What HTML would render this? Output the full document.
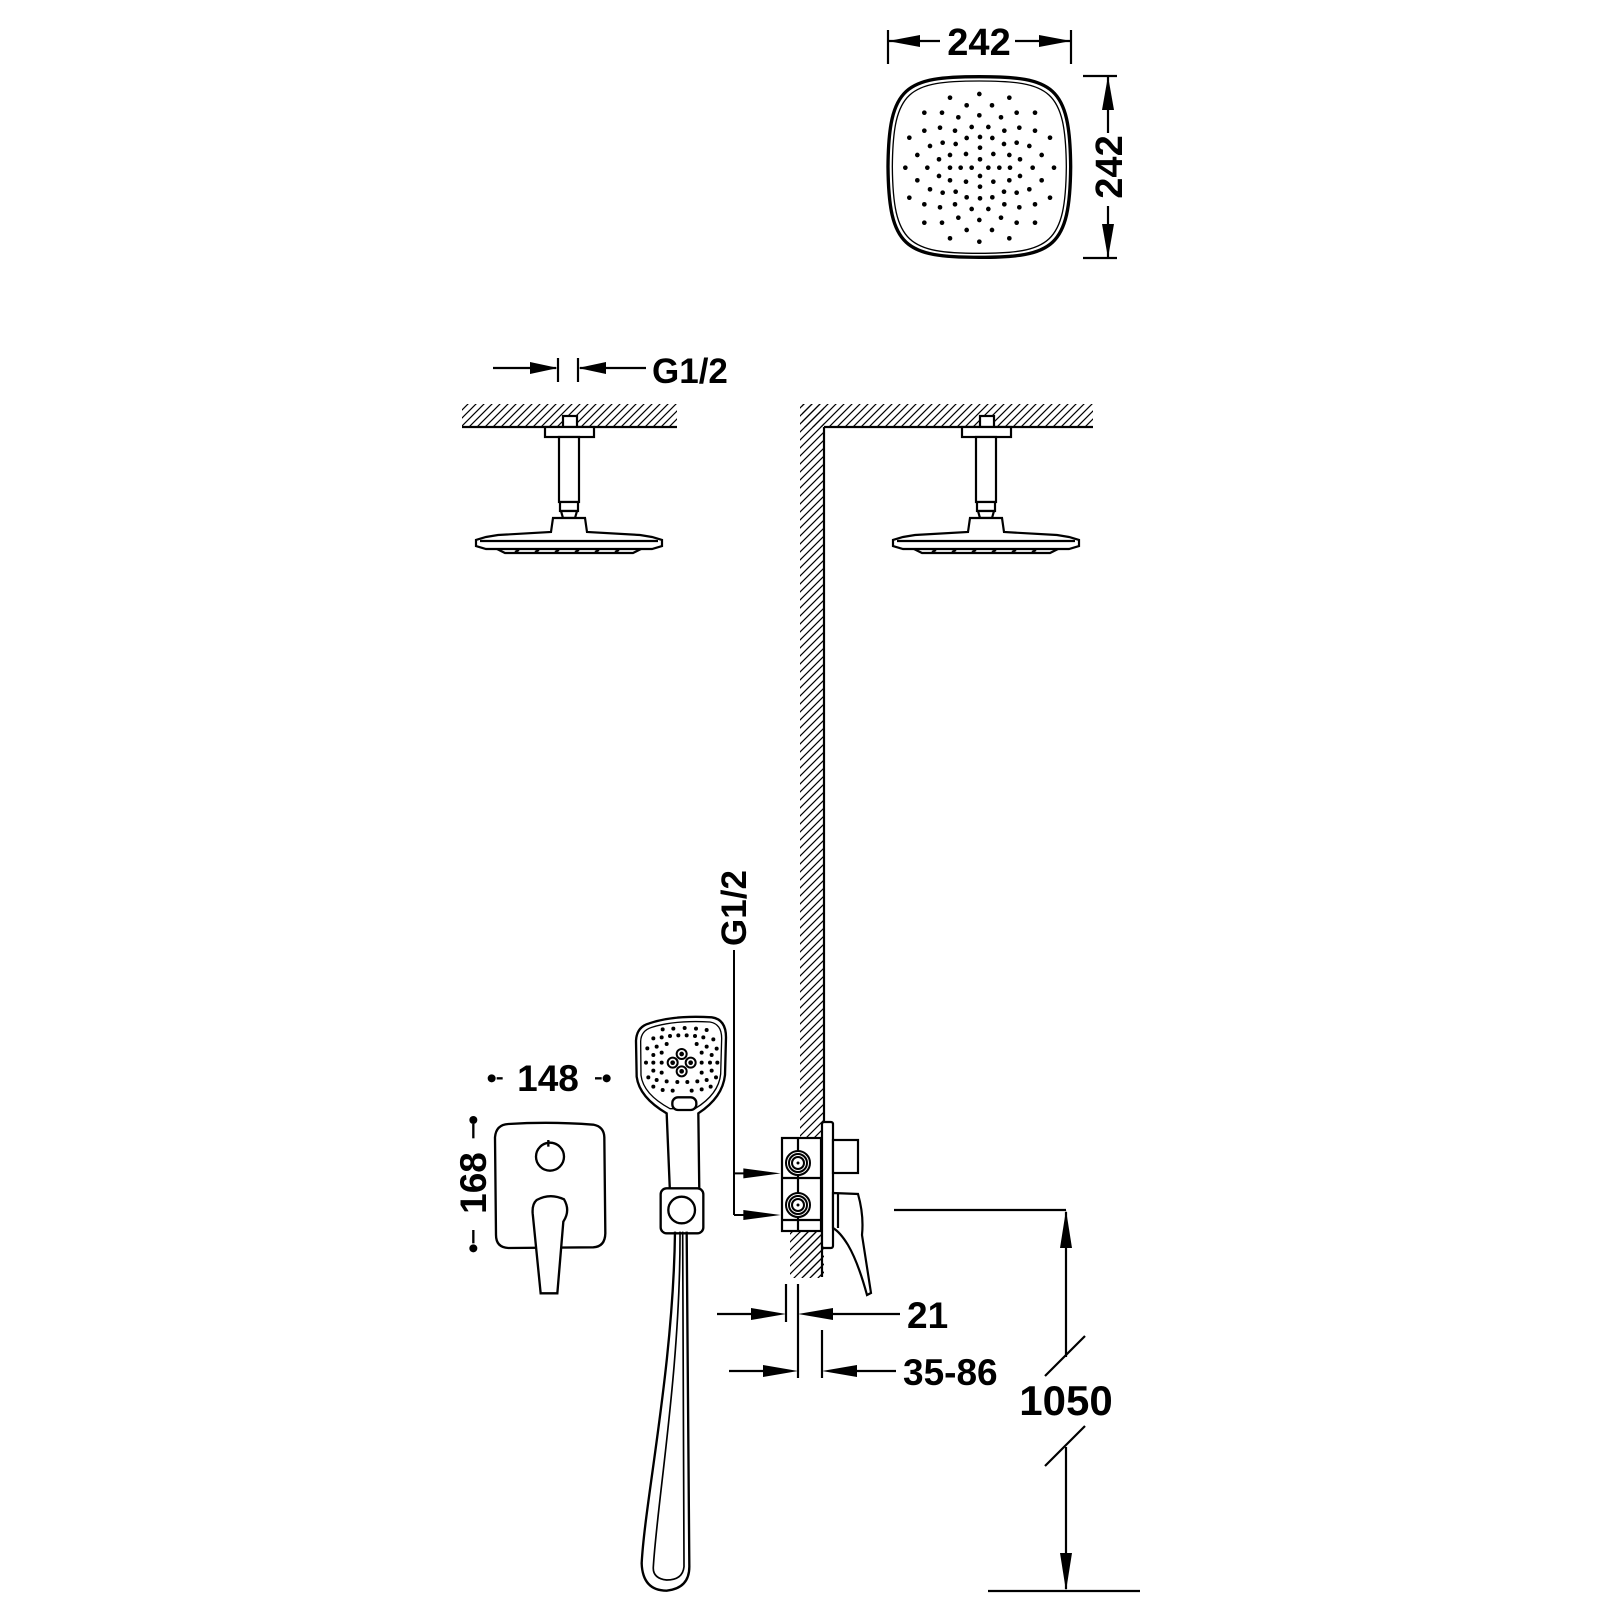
<!DOCTYPE html>
<html><head><meta charset="utf-8"><style>
html,body{margin:0;padding:0;background:#fff}
svg{display:block}
text{font-family:"Liberation Sans",Arial,sans-serif;font-weight:bold;fill:#000}
.s{fill:none;stroke:#000;stroke-width:2.2}
.w{fill:#fff;stroke:#000;stroke-width:2.2}
.n{vector-effect:non-scaling-stroke}
</style></head><body>
<svg width="1600" height="1600" viewBox="0 0 1600 1600" xmlns="http://www.w3.org/2000/svg">
<defs>
<pattern id="h" width="8" height="8" patternUnits="userSpaceOnUse">
<path d="M-2,10 L10,-2 M-2,2 L2,-2 M6,10 L10,6" stroke="#000" stroke-width="1.2"/>
</pattern>
<marker id="a" viewBox="0 0 10 10" refX="10" refY="5" markerWidth="10" markerHeight="10" markerUnits="userSpaceOnUse" orient="auto"><path d="M0,0 L10,5 L0,10Z"/></marker>
</defs>

<!-- TOP SQUARE SHOWER -->
<line x1="888" y1="30" x2="888" y2="64" class="s"/>
<line x1="1071" y1="30" x2="1071" y2="64" class="s"/>
<line x1="940" y1="41" x2="889" y2="41" class="s" stroke-width="2"/>
<polygon points="888,41 920,35 920,47"/>
<line x1="1015" y1="41" x2="1070" y2="41" class="s" stroke-width="2"/>
<polygon points="1071,41 1039,35 1039,47"/>
<text x="979" y="55" font-size="38" text-anchor="middle">242</text>
<line x1="1083" y1="76" x2="1117" y2="76" class="s"/>
<line x1="1083" y1="258" x2="1117" y2="258" class="s"/>
<line x1="1108" y1="77" x2="1108" y2="133" class="s"/>
<polygon points="1108,76 1102,110 1114,110"/>
<line x1="1108" y1="206" x2="1108" y2="257" class="s"/>
<polygon points="1108,258 1102,224 1114,224"/>
<text x="0" y="0" font-size="38" text-anchor="middle" transform="translate(1122,167) rotate(-90)">242</text>
<g transform="translate(840,0) scale(0.33333)">
<path d="M418,230 C640,230 690,258 692,500 C690,742 640,772 418,772 C196,772 146,742 144,500 C146,258 196,230 418,230Z" fill="none" stroke="#000" stroke-width="10"/>
<path d="M418,243 C630,243 677,270 679,500 C677,730 630,760 418,760 C206,760 159,730 157,500 C159,270 206,243 418,243Z" fill="none" stroke="#000" stroke-width="4"/>
<g fill="#000">
<circle cx="418" cy="282" r="7"/><circle cx="330" cy="293" r="7"/><circle cx="508" cy="293" r="7"/><circle cx="380" cy="316" r="7"/><circle cx="456" cy="316" r="7"/><circle cx="253" cy="338" r="7"/><circle cx="306" cy="338" r="7"/><circle cx="355" cy="352" r="7"/><circle cx="418" cy="346" r="7"/><circle cx="483" cy="352" r="7"/><circle cx="530" cy="338" r="7"/><circle cx="585" cy="338" r="7"/>
<circle cx="253" cy="392" r="7"/><circle cx="300" cy="383" r="7"/><circle cx="345" cy="392" r="7"/><circle cx="395" cy="381" r="7"/><circle cx="445" cy="381" r="7"/><circle cx="493" cy="392" r="7"/><circle cx="538" cy="383" r="7"/><circle cx="585" cy="392" r="7"/>
<circle cx="208" cy="413" r="7"/><circle cx="630" cy="413" r="7"/><circle cx="270" cy="438" r="7"/><circle cx="308" cy="428" r="7"/><circle cx="347" cy="432" r="7"/><circle cx="380" cy="414" r="7"/><circle cx="420" cy="411" r="7"/><circle cx="457" cy="414" r="7"/><circle cx="492" cy="432" r="7"/><circle cx="530" cy="428" r="7"/><circle cx="568" cy="438" r="7"/>
<circle cx="420" cy="443" r="7"/><circle cx="232" cy="465" r="7"/><circle cx="605" cy="465" r="7"/><circle cx="297" cy="478" r="7"/><circle cx="330" cy="465" r="7"/><circle cx="378" cy="462" r="7"/><circle cx="420" cy="478" r="7"/><circle cx="460" cy="462" r="7"/><circle cx="508" cy="465" r="7"/><circle cx="540" cy="478" r="7"/>
<circle cx="196" cy="503" r="7"/><circle cx="262" cy="503" r="7"/><circle cx="330" cy="503" r="7"/><circle cx="362" cy="503" r="7"/><circle cx="395" cy="503" r="7"/><circle cx="445" cy="503" r="7"/><circle cx="478" cy="503" r="7"/><circle cx="510" cy="503" r="7"/><circle cx="578" cy="503" r="7"/><circle cx="642" cy="503" r="7"/>
<circle cx="232" cy="541" r="7"/><circle cx="605" cy="541" r="7"/><circle cx="297" cy="528" r="7"/><circle cx="330" cy="541" r="7"/><circle cx="378" cy="545" r="7"/><circle cx="420" cy="528" r="7"/><circle cx="460" cy="545" r="7"/><circle cx="508" cy="541" r="7"/><circle cx="540" cy="528" r="7"/><circle cx="420" cy="560" r="7"/>
<circle cx="270" cy="568" r="7"/><circle cx="308" cy="578" r="7"/><circle cx="347" cy="575" r="7"/><circle cx="380" cy="592" r="7"/><circle cx="420" cy="595" r="7"/><circle cx="457" cy="592" r="7"/><circle cx="492" cy="575" r="7"/><circle cx="530" cy="578" r="7"/><circle cx="568" cy="568" r="7"/>
<circle cx="208" cy="593" r="7"/><circle cx="630" cy="593" r="7"/><circle cx="253" cy="613" r="7"/><circle cx="300" cy="622" r="7"/><circle cx="345" cy="613" r="7"/><circle cx="395" cy="627" r="7"/><circle cx="445" cy="627" r="7"/><circle cx="493" cy="613" r="7"/><circle cx="538" cy="622" r="7"/><circle cx="585" cy="613" r="7"/>
<circle cx="253" cy="668" r="7"/><circle cx="306" cy="668" r="7"/><circle cx="355" cy="653" r="7"/><circle cx="418" cy="660" r="7"/><circle cx="483" cy="653" r="7"/><circle cx="530" cy="668" r="7"/><circle cx="585" cy="668" r="7"/><circle cx="380" cy="690" r="7"/><circle cx="456" cy="690" r="7"/><circle cx="330" cy="715" r="7"/><circle cx="418" cy="725" r="7"/><circle cx="508" cy="715" r="7"/>
</g>
</g>

<!-- G1/2 top -->
<line x1="493" y1="368" x2="556" y2="368" class="s"/>
<polygon points="558,368 530,362 530,374"/>
<line x1="558" y1="358" x2="558" y2="382" class="s" stroke-width="1.6"/>
<line x1="578" y1="358" x2="578" y2="382" class="s" stroke-width="1.6"/>
<line x1="580" y1="368" x2="646" y2="368" class="s"/>
<polygon points="578,368 606,362 606,374"/>
<text x="652" y="383" font-size="35">G1/2</text>

<!-- Ceilings and wall -->
<rect x="462" y="404" width="215" height="23" fill="url(#h)"/>
<line x1="462" y1="427" x2="677" y2="427" class="s"/>
<rect x="802" y="404" width="291" height="23" fill="url(#h)"/>
<rect x="800" y="404" width="24" height="873" fill="url(#h)"/>
<line x1="824" y1="427" x2="1093" y2="427" class="s"/>
<line x1="824" y1="427" x2="824" y2="1138" class="s"/>
<line x1="822" y1="1231" x2="822" y2="1277" class="s"/>
<rect x="790" y="1232" width="31" height="46" fill="url(#h)"/>

<!-- Ceiling showers -->
<g id="cs">
<rect x="563" y="416" width="14" height="11" class="w"/>
<rect x="545" y="427" width="49" height="10" class="w"/>
<rect x="559" y="437" width="20" height="65" class="w"/>
<rect x="560" y="502" width="18" height="9" class="w"/>
<path d="M561,511 L577,511 L575,518 L563,518Z" class="w"/>
<path d="M553,518 L585,518 L587,532 L640,535 L652,537 L662,540 L662,546 L652,549 L486,549 L476,546 L476,540 L486,537 L498,535 L551,532Z" class="w"/>
<line x1="480" y1="541" x2="658" y2="541" class="s" stroke-width="1.6"/>
<path d="M497,549 L505,553 L633,553 L641,549" class="s" stroke-width="2"/>
<path d="M515,552 l4,-2 M535,552 l4,-2 M555,552 l4,-2 M575,552 l4,-2 M595,552 l4,-2 M615,552 l4,-2" class="s" stroke-width="1.5"/>
</g>
<use href="#cs" transform="translate(417,0)"/>

<!-- 148 / 168 mixer plate -->
<g transform="translate(440,1000) scale(0.33333)">
<circle cx="155" cy="235" r="12"/><circle cx="500" cy="235" r="12"/>
<line x1="170" y1="235" x2="188" y2="235" stroke="#000" stroke-width="7"/>
<line x1="465" y1="235" x2="485" y2="235" stroke="#000" stroke-width="7"/>
<circle cx="100" cy="360" r="12"/><circle cx="100" cy="745" r="12"/>
<line x1="100" y1="372" x2="100" y2="415" stroke="#000" stroke-width="7"/>
<line x1="100" y1="690" x2="100" y2="730" stroke="#000" stroke-width="7"/>
<path d="M205,372 Q330,364 460,374 Q492,380 493,412 L496,700 Q495,740 460,742 L205,744 Q168,742 168,705 L165,412 Q168,374 205,372Z" fill="#fff" stroke="#000" stroke-width="7"/>
<circle cx="330" cy="470" r="42" fill="#fff" stroke="#000" stroke-width="7"/>
<line x1="325" y1="420" x2="325" y2="440" stroke="#000" stroke-width="7"/>
<path d="M290,600 Q330,578 372,598 Q392,632 370,665 L352,880 L302,880 L278,640 Q276,612 290,600Z" fill="#fff" stroke="#000" stroke-width="7"/>
<!-- hand shower -->
<path d="M628,70 Q700,45 815,52 Q858,58 858,112 L855,225 Q848,292 775,340 L778,580 L690,580 L680,340 Q598,292 590,230 L588,122 Q590,80 628,70Z" fill="#fff" stroke="#000" stroke-width="7"/>
<path d="M635,82 Q705,60 810,66 Q845,72 845,115 L842,222 Q836,283 765,326 L690,326 Q610,283 603,226 L602,124 Q603,92 635,82Z" fill="none" stroke="#000" stroke-width="4"/>
<rect x="697" y="292" width="72" height="38" rx="17" fill="#fff" stroke="#000" stroke-width="7"/>
<g fill="#000">
<circle cx="668" cy="88" r="6"/><circle cx="700" cy="86" r="6"/><circle cx="734" cy="84" r="6"/><circle cx="768" cy="86" r="6"/><circle cx="800" cy="90" r="6"/>
<circle cx="640" cy="115" r="6"/><circle cx="665" cy="112" r="6"/><circle cx="690" cy="108" r="6"/><circle cx="715" cy="106" r="6"/><circle cx="740" cy="106" r="6"/><circle cx="765" cy="108" r="6"/><circle cx="790" cy="112" r="6"/><circle cx="820" cy="118" r="6"/>
<circle cx="622" cy="145" r="6"/><circle cx="650" cy="140" r="6"/><circle cx="680" cy="132" r="6"/><circle cx="770" cy="132" r="6"/><circle cx="800" cy="140" r="6"/><circle cx="830" cy="146" r="6"/>
<circle cx="640" cy="165" r="6"/><circle cx="665" cy="158" r="6"/><circle cx="785" cy="158" r="6"/><circle cx="815" cy="165" r="6"/>
<circle cx="618" cy="188" r="6"/><circle cx="640" cy="188" r="6"/><circle cx="665" cy="188" r="6"/><circle cx="785" cy="188" r="6"/><circle cx="810" cy="188" r="6"/><circle cx="832" cy="188" r="6"/>
<circle cx="640" cy="212" r="6"/><circle cx="665" cy="218" r="6"/><circle cx="785" cy="218" r="6"/><circle cx="815" cy="212" r="6"/>
<circle cx="625" cy="232" r="6"/><circle cx="650" cy="240" r="6"/><circle cx="680" cy="244" r="6"/><circle cx="712" cy="246" r="6"/><circle cx="742" cy="246" r="6"/><circle cx="772" cy="244" r="6"/><circle cx="800" cy="240" r="6"/><circle cx="828" cy="232" r="6"/>
<circle cx="640" cy="260" r="6"/><circle cx="668" cy="270" r="6"/><circle cx="698" cy="272" r="6"/><circle cx="755" cy="272" r="6"/><circle cx="785" cy="268" r="6"/><circle cx="812" cy="260" r="6"/>
</g>
<g fill="#fff" stroke="#000" stroke-width="6">
<circle cx="725" cy="162" r="15"/><circle cx="698" cy="188" r="15"/><circle cx="752" cy="188" r="15"/><circle cx="725" cy="214" r="15"/>
</g>
<g fill="#000"><circle cx="725" cy="162" r="7"/><circle cx="698" cy="188" r="7"/><circle cx="752" cy="188" r="7"/><circle cx="725" cy="214" r="7"/></g>
<rect x="662" y="565" width="128" height="135" rx="18" fill="#fff" stroke="#000" stroke-width="7"/>
<circle cx="725" cy="630" r="40" fill="#fff" stroke="#000" stroke-width="7"/>
<!-- G1/2 pipe arrows -->
<line x1="882" y1="-150" x2="882" y2="645" stroke="#000" stroke-width="6"/>
<line x1="882" y1="520" x2="960" y2="520" stroke="#000" stroke-width="6"/>
<polygon points="910,505 1022,520 910,535"/>
<line x1="882" y1="645" x2="960" y2="645" stroke="#000" stroke-width="6"/>
<polygon points="910,630 1022,645 910,660"/>
</g>
<text x="0" y="0" font-size="35" text-anchor="middle" transform="translate(746,908) rotate(-90)">G1/2</text>
<text x="548" y="1091" font-size="37" text-anchor="middle">148</text>
<text x="0" y="0" font-size="37" text-anchor="middle" transform="translate(486,1183) rotate(-90)">168</text>

<!-- hose -->
<g transform="translate(620,1200) scale(0.33333)">
<path d="M165,95 C160,500 75,900 65,1090 Q68,1172 140,1172 Q208,1165 208,1100 L200,95" fill="none" stroke="#000" stroke-width="7"/>
<path d="M188,95 L192,1100 Q188,1140 140,1140 Q97,1135 100,1100 C112,900 182,500 180,95" fill="none" stroke="#000" stroke-width="5"/>
</g>

<!-- valve side view -->
<rect x="782" y="1138" width="39" height="93" class="w"/>
<line x1="798" y1="1138" x2="798" y2="1231" class="s" stroke-width="1.5"/>
<line x1="782" y1="1178" x2="821" y2="1178" class="s" stroke-width="1.5"/>
<line x1="782" y1="1220" x2="821" y2="1220" class="s" stroke-width="1.5"/>
<g fill="#fff" stroke="#000" stroke-width="2">
<circle cx="798" cy="1163" r="12"/><circle cx="798" cy="1163" r="9"/><circle cx="798" cy="1163" r="6"/>
<circle cx="798" cy="1205" r="12"/><circle cx="798" cy="1205" r="9"/><circle cx="798" cy="1205" r="6"/>
</g>
<circle cx="798" cy="1163" r="1.5"/><circle cx="798" cy="1205" r="1.5"/>
<rect x="822" y="1122" width="11" height="126" rx="2" class="w"/>
<rect x="833" y="1140" width="25" height="33" class="w"/>
<path d="M833,1193 L858,1194 Q864,1215 862,1235 L871,1293 L867,1295 Q858,1262 848,1245 Q840,1232 833,1228Z" class="w"/>
<line x1="838" y1="1194" x2="838" y2="1228" class="s" stroke-width="1.5"/>

<!-- 21 / 35-86 -->
<line x1="786" y1="1284" x2="786" y2="1322" class="s"/>
<line x1="798" y1="1284" x2="798" y2="1378" class="s"/>
<line x1="822" y1="1330" x2="822" y2="1378" class="s"/>
<line x1="717" y1="1314" x2="760" y2="1314" class="s"/>
<polygon points="786,1314 751,1308 751,1320"/>
<line x1="830" y1="1314" x2="900" y2="1314" class="s"/>
<polygon points="798,1314 833,1308 833,1320"/>
<text x="907" y="1328" font-size="37">21</text>
<line x1="729" y1="1371" x2="770" y2="1371" class="s"/>
<polygon points="798,1371 763,1365 763,1377"/>
<line x1="850" y1="1371" x2="896" y2="1371" class="s"/>
<polygon points="822,1371 857,1365 857,1377"/>
<text x="903" y="1385" font-size="37">35-86</text>

<!-- 1050 -->
<line x1="894" y1="1210" x2="1066" y2="1210" class="s"/>
<line x1="988" y1="1591" x2="1140" y2="1591" class="s"/>
<line x1="1066" y1="1212" x2="1066" y2="1357" class="s"/>
<polygon points="1066,1210 1060,1248 1072,1248"/>
<line x1="1066" y1="1447" x2="1066" y2="1589" class="s"/>
<polygon points="1066,1591 1060,1553 1072,1553"/>
<line x1="1045" y1="1376" x2="1085" y2="1336" class="s"/>
<line x1="1045" y1="1466" x2="1085" y2="1426" class="s"/>
<text x="1066" y="1415" font-size="42" text-anchor="middle">1050</text>
</svg>
</body></html>
